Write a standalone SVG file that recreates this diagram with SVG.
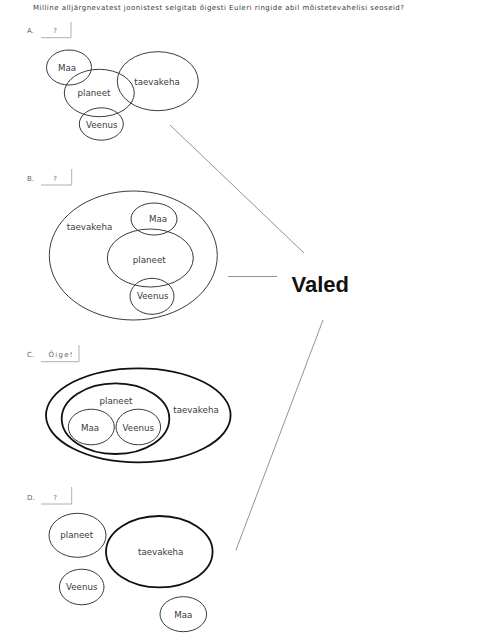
<svg xmlns="http://www.w3.org/2000/svg" width="500" height="635" viewBox="0 0 500 635">
<style>
text{font-family:"DejaVu Sans",Verdana,sans-serif;fill:#3a3a3a}
.t{font-size:8.7px;text-anchor:middle;dominant-baseline:central}
.c{fill:none;stroke:#3a3a3a;stroke-width:1}
.k{fill:none;stroke:#111;stroke-width:1.8}
.lab{font-size:7px;fill:#666}
.ans{font-size:7px;fill:#666;text-anchor:middle}
.box{fill:none;stroke:#999;stroke-width:0.8}
.con{stroke:#777;stroke-width:0.8;fill:none}
</style>
<rect width="500" height="635" fill="#fff"/>
<text x="33" y="9.5" font-size="7" fill="#444" textLength="371" lengthAdjust="spacing">Milline alljärgnevatest joonistest selgitab õigesti Euleri ringide abil mõistetevahelisi seoseid?</text>

<g id="labelA"><text class="lab" x="27" y="33">A.</text><path class="box" d="M41,37.7H71V22"/><text class="ans" x="55" y="33">?</text></g>
<g id="A-maa"><ellipse class="c" cx="69" cy="67.5" rx="22.5" ry="17.5"/><text class="t" x="67" y="67.5">Maa</text></g>
<g id="A-planeet"><ellipse class="c" cx="99.3" cy="93" rx="35" ry="23.7"/><text class="t" x="94" y="93">planeet</text></g>
<g id="A-taevakeha"><ellipse class="c" cx="157.8" cy="81.2" rx="40.5" ry="29.5"/><text class="t" x="157" y="82">taevakeha</text></g>
<g id="A-veenus"><ellipse class="c" cx="101.3" cy="124" rx="22" ry="16.2"/><text class="t" x="101.7" y="125">Veenus</text></g>

<g id="labelB"><text class="lab" x="27" y="181">B.</text><path class="box" d="M41,185H71.7V169"/><text class="ans" x="55" y="181">?</text></g>
<g id="B-taevakeha"><ellipse class="c" cx="133.3" cy="255.5" rx="84" ry="64.5"/><text class="t" x="89.5" y="227">taevakeha</text></g>
<g id="B-maa"><ellipse class="c" cx="154" cy="219" rx="23" ry="16"/><text class="t" x="158" y="219">Maa</text></g>
<g id="B-planeet"><ellipse class="c" cx="150.3" cy="258" rx="43" ry="29"/><text class="t" x="149.3" y="259.5">planeet</text></g>
<g id="B-veenus"><ellipse class="c" cx="152" cy="296.3" rx="22" ry="18"/><text class="t" x="152.7" y="296">Veenus</text></g>

<g id="labelC"><text class="lab" x="27" y="357">C.</text><path class="box" d="M41,361.7H79V345"/><text class="ans" x="60.5" y="356.5" textLength="24" lengthAdjust="spacing">Õige!</text></g>
<g id="C-taevakeha"><ellipse class="k" cx="138.3" cy="415.3" rx="92.3" ry="47"/><text class="t" x="196" y="410">taevakeha</text></g>
<g id="C-planeet"><ellipse class="k" cx="115.5" cy="418.7" rx="53.8" ry="35.3"/><text class="t" x="116" y="401">planeet</text></g>
<g id="C-maa"><ellipse class="c" cx="91.3" cy="427" rx="23" ry="17.8"/><text class="t" x="90" y="428">Maa</text></g>
<g id="C-veenus"><ellipse class="c" cx="138.3" cy="427" rx="22.3" ry="17.8"/><text class="t" x="138.3" y="428">Veenus</text></g>

<g id="labelD"><text class="lab" x="27" y="500">D.</text><path class="box" d="M41,504H71.7V487"/><text class="ans" x="55" y="500">?</text></g>
<g id="D-planeet"><ellipse class="c" cx="77.5" cy="535.3" rx="28.5" ry="22"/><text class="t" x="76.7" y="534.5">planeet</text></g>
<g id="D-taevakeha"><ellipse class="k" cx="159.3" cy="551.7" rx="53.3" ry="35.7"/><text class="t" x="160.7" y="551.7">taevakeha</text></g>
<g id="D-veenus"><ellipse class="c" cx="81.7" cy="587" rx="22.3" ry="17.8"/><text class="t" x="81.7" y="587.3">Veenus</text></g>
<g id="D-maa"><ellipse class="c" cx="183.3" cy="614.2" rx="23.3" ry="17.5"/><text class="t" x="183.3" y="615">Maa</text></g>

<g id="valed"><text x="291.5" y="291.5" font-weight="bold" font-size="22" style="font-family:'Liberation Sans',Arial,sans-serif;fill:#111">Valed</text></g>

<g id="connectors">
<line class="con" x1="170" y1="125" x2="304" y2="253"/>
<line class="con" x1="228" y1="276.5" x2="277" y2="276.5"/>
<line class="con" x1="323" y1="320" x2="236" y2="550"/>
</g>
</svg>
